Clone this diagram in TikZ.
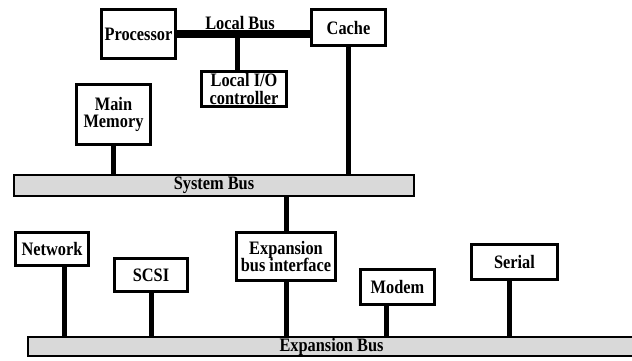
\documentclass[tikz,border=0pt]{standalone}
\usepackage{fontspec}
\setmainfont{Liberation Serif}[FakeStretch=0.86]
\usetikzlibrary{positioning}
\definecolor{busgray}{RGB}{217,217,217}

\begin{document}
\begin{tikzpicture}[x=1pt, y=-1pt, every node/.style={draw, line width=3pt, fill=white, align=center, inner sep=0pt, font=\fontsize{19}{17.5}\selectfont\bfseries}]
    \useasboundingbox (0,0) rectangle (632,360);

    \node [minimum width=74pt, minimum height=49pt] (proc) at (138.5,34) {Processor};
    \node [minimum width=74pt, minimum height=36pt] (cache) at (348.5,27.5) {Cache};
    \node [minimum width=85pt, minimum height=35pt] (io) at (244,89) {Local I/O \\ controller};
    \node [minimum width=74pt, minimum height=60pt] (mem) at (113.5,114.5) {Main \\ Memory};
    \node [line width=2pt, fill=busgray, minimum width=400pt, minimum height=21pt] (sysbus) at (214,185.5) {System Bus};
    \node [minimum width=99pt, minimum height=48pt] (ebi) at (286,256.5) {Expansion \\ bus interface};
    \node [minimum width=73pt, minimum height=33pt] (net) at (52,248.5) {Network};
    \node [minimum width=73pt, minimum height=33pt] (scsi) at (151,275) {SCSI};
    \node [minimum width=74pt, minimum height=35pt] (modem) at (397.5,287) {Modem};
    \node [minimum width=86pt, minimum height=35pt] (serial) at (514.5,262) {Serial};
    \node [line width=2pt, fill=busgray, minimum width=607pt, minimum height=19pt] (expbus) at (331.5,346.5) {Expansion Bus};
    \node [draw=none, fill=none] (lbl) at (240,23.5) {Local Bus};

    \coordinate (iotap) at (237,34);
    \coordinate (nettap) at ([xshift=12pt]net.south);
    \coordinate (modemtap) at ([xshift=-11.5pt]modem.south);
    \coordinate (serialtap) at ([xshift=-5.5pt]serial.south);

    \draw [line width=8pt] (proc.east) -- (proc.east -| cache.west);
    \draw [line width=5pt] (iotap) -- (iotap |- io.north);
    \draw [line width=5pt] (cache.south) -- (cache.south |- sysbus.north);
    \draw [line width=5pt] (mem.south) -- (mem.south |- sysbus.north);
    \draw [line width=5pt] (ebi.north) -- (ebi.north |- sysbus.south);
    \draw [line width=5pt] (ebi.south) -- (ebi.south |- expbus.north);
    \draw [line width=5pt] (nettap) -- (nettap |- expbus.north);
    \draw [line width=5pt] (scsi.south) -- (scsi.south |- expbus.north);
    \draw [line width=5pt] (modemtap) -- (modemtap |- expbus.north);
    \draw [line width=5pt] (serialtap) -- (serialtap |- expbus.north);
\end{tikzpicture}
\end{document}
